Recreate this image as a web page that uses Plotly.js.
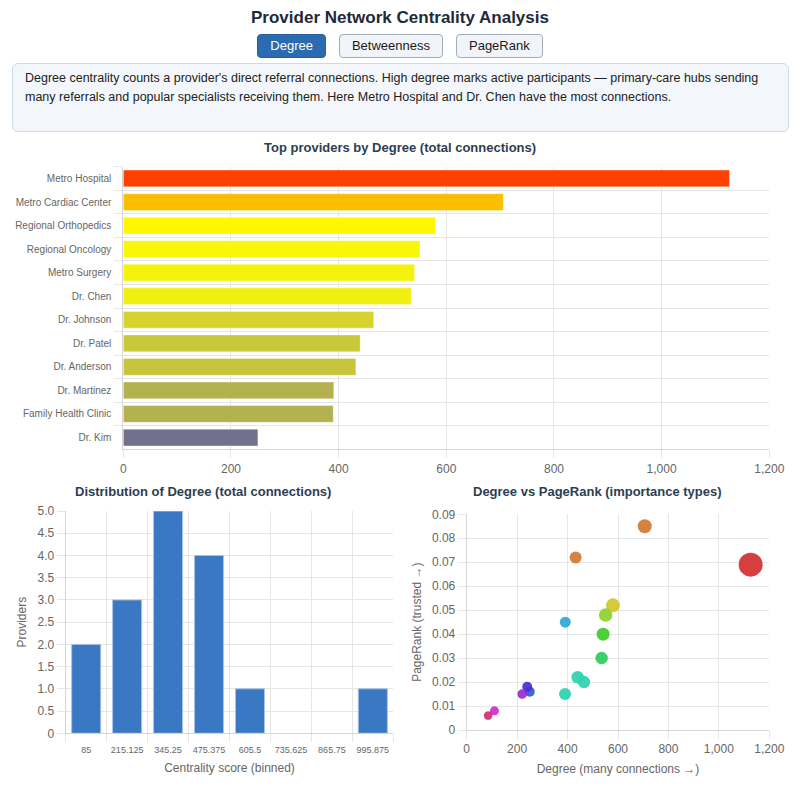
<!DOCTYPE html>
<html>
<head>
<meta charset="utf-8">
<script src="https://cdn.plot.ly/plotly-3.0.1.min.js"></script>
<style>
  html, body { margin: 0; padding: 0; background: #ffffff; }
  body { width: 800px; height: 795px; position: relative; overflow: hidden;
         font-family: "Liberation Sans", Arial, Helvetica, sans-serif; }
  #title { position: absolute; top: 8px; left: 0; width: 800px; text-align: center;
           font-size: 17px; font-weight: bold; line-height: 20px; color: #1f2a38; }
  #buttons { position: absolute; top: 34px; left: 0; width: 800px; display: flex;
             justify-content: center; gap: 13px; }
  .btn { box-sizing: border-box; height: 24px; line-height: 22px; padding: 0 12px;
         font-size: 13px; border: 1px solid #a3acb9; border-radius: 4px;
         background: #f1f4f8; color: #1b1b1b; font-family: inherit; }
  .btn.active { background: #2b6cb0; border-color: #285f9c; color: #ffffff; }
  #desc { position: absolute; top: 63px; left: 12px; width: 777px; height: 69px;
          box-sizing: border-box; background: #f3f7fb; border: 1px solid #cfdae5;
          border-radius: 6px; padding: 5px 12px; font-size: 12.5px; line-height: 19px;
          color: #222; white-space: nowrap; }
  #chart { position: absolute; top: 135px; left: 0; width: 800px; height: 660px; }
</style>
</head>
<body>
<div id="title">Provider Network Centrality Analysis</div>
<div id="buttons">
  <button class="btn active">Degree</button>
  <button class="btn">Betweenness</button>
  <button class="btn">PageRank</button>
</div>
<div id="desc">Degree centrality counts a provider's direct referral connections. High degree marks active participants — primary-care hubs sending<br>many referrals and popular specialists receiving them. Here Metro Hospital and Dr. Chen have the most connections.</div>
<div id="chart"></div>
<script>
// ---- data ----
const providers = ["Metro Hospital", "Metro Cardiac Center", "Regional Orthopedics", "Regional Oncology",
  "Metro Surgery", "Dr. Chen", "Dr. Johnson", "Dr. Patel", "Dr. Anderson", "Dr. Martinez",
  "Family Health Clinic", "Dr. Kim"];
const degree = [1126, 706, 580, 551, 541, 535, 465, 440, 432, 391, 390, 250];

const binLabels = ["85", "215.125", "345.25", "475.375", "605.5", "735.625", "865.75", "995.875"];
const binCounts = [2, 3, 5, 4, 1, 0, 0, 1];

const allDegree = [1126, 706, 432, 580, 551, 541, 535, 391, 440, 465, 390, 250, 240, 220, 110, 85];
const allPagerank = [0.069, 0.085, 0.072, 0.052, 0.048, 0.040, 0.030, 0.045, 0.022, 0.020, 0.015, 0.016, 0.018, 0.015, 0.008, 0.006];

// ---- styles ----
const barColors = ["#ff4000", "#fdbd00", "#fff700", "#f9f60a", "#f4f20c", "#f1ef10", "#d5d42e",
  "#c9c83a", "#c6c53c", "#b3b24f", "#b3b24f", "#71718f"];
const nodeColors = ["#d32f2f", "#d4772f", "#d4772f", "#d4c42b", "#8fd12b", "#3ecc2a", "#2bcc5e", "#2ea7d2",
  "#2ed1b1", "#2ed1b1", "#2ed1b1", "#2d5ad1", "#4c2bd3", "#9a2bd3", "#d22bc9", "#d22b74"];
const nodeSizes = [24, 14, 12, 14, 13.5, 13, 12.5, 11, 12.5, 12.5, 12, 10, 10, 9.5, 9, 8.5];

const FONT = "Liberation Sans, Arial, Helvetica, sans-serif";
const GRID = "#e6e6e6";
const TICK = "#666666";
const TITLE = "#2d3e50";

// page px -> paper fraction (figure top at page y=135, 800x660)
const W = 800, H = 660, TOP = 135;
const px = x => x / W;
const py = y => 1 - (y - TOP) / H;

const histTickVals = [0, 0.5, 1, 1.5, 2, 2.5, 3, 3.5, 4, 4.5, 5];
const histTickText = histTickVals.map(v => v === 0 ? "0" : v.toFixed(1));
const histLineWidths = binCounts.map(c => (c > 0 ? 1 : 0));

const traces = [
  {
    type: "bar", orientation: "h", x: degree, y: providers, xaxis: "x", yaxis: "y",
    marker: { color: barColors, line: { color: "rgba(255,255,255,0.35)", width: 1 } },
    hoverinfo: "x+y"
  },
  {
    type: "bar", x: binLabels, y: binCounts, xaxis: "x2", yaxis: "y2",
    marker: { color: "#3b78c4", line: { color: "#a8c3e6", width: histLineWidths } }
  },
  {
    type: "scatter", mode: "markers", x: allDegree, y: allPagerank, xaxis: "x3", yaxis: "y3",
    marker: { color: nodeColors, size: nodeSizes, opacity: 0.92, line: { width: 0 } },
    cliponaxis: false
  }
];

const baseAxis = {
  automargin: false, showgrid: true, gridcolor: GRID, gridwidth: 1, zeroline: false,
  ticks: "outside", ticklen: 8, tickcolor: GRID, tickwidth: 1,
  tickfont: { family: FONT, size: 12, color: TICK },
  showline: true, linecolor: "#d6d6d6", linewidth: 1, fixedrange: true
};

const layout = {
  width: W, height: H,
  margin: { l: 0, r: 0, t: 0, b: 0, pad: 0 },
  paper_bgcolor: "#ffffff", plot_bgcolor: "#ffffff",
  showlegend: false,
  font: { family: FONT, size: 12, color: TICK },
  bargap: 0.29,
  xaxis: Object.assign({}, baseAxis, {
    domain: [px(123.3), px(769.3)], anchor: "y", range: [0, 1200], dtick: 200, tick0: 0,
    tickformat: ","
  }),
  yaxis: Object.assign({}, baseAxis, {
    domain: [py(449.3), py(166.7)], anchor: "x", type: "category", autorange: "reversed",
    tickson: "boundaries", ticklabelstandoff: 9, tickfont: { family: FONT, size: 10, color: TICK }
  }),
  xaxis2: Object.assign({}, baseAxis, {
    domain: [px(65.7), px(393.3)], anchor: "y2", type: "category", tickson: "boundaries",
    range: [-0.5, 7.5], tickangle: 0, ticklabelstandoff: 8,
    tickfont: { family: FONT, size: 9, color: TICK },
    title: { text: "Centrality score (binned)", font: { family: FONT, size: 12, color: TICK }, standoff: 9 }
  }),
  yaxis2: Object.assign({}, baseAxis, {
    domain: [py(733.3), py(511)], anchor: "x2", range: [0, 5], tickvals: histTickVals,
    ticktext: histTickText,
    title: { text: "Providers", font: { family: FONT, size: 12, color: TICK }, standoff: 8 }
  }),
  xaxis3: Object.assign({}, baseAxis, {
    domain: [px(466.7), px(769.3)], anchor: "y3", range: [0, 1200], dtick: 200, tick0: 0,
    tickformat: ",",
    title: { text: "Degree (many connections →)", font: { family: FONT, size: 12, color: TICK }, standoff: 9 }
  }),
  yaxis3: Object.assign({}, baseAxis, {
    domain: [py(730), py(514.3)], anchor: "x3", range: [0, 0.09], dtick: 0.01, tick0: 0,
    title: { text: "PageRank (trusted →)", font: { family: FONT, size: 12, color: TICK }, standoff: 7 }
  }),
  annotations: [
    { text: "<b>Top providers by Degree (total connections)</b>", xref: "paper", yref: "paper",
      x: 0.5, y: py(148), xanchor: "center", yanchor: "middle", showarrow: false,
      font: { family: FONT, size: 13, color: TITLE } },
    { text: "<b>Distribution of Degree (total connections)</b>", xref: "paper", yref: "paper",
      x: px(203), y: py(491), xanchor: "center", yanchor: "middle", showarrow: false,
      font: { family: FONT, size: 13, color: TITLE } },
    { text: "<b>Degree vs PageRank (importance types)</b>", xref: "paper", yref: "paper",
      x: px(597.5), y: py(491), xanchor: "center", yanchor: "middle", showarrow: false,
      font: { family: FONT, size: 13, color: TITLE } }
  ]
};

Plotly.newPlot("chart", traces, layout, { displayModeBar: false, responsive: false });
</script>
</body>
</html>
